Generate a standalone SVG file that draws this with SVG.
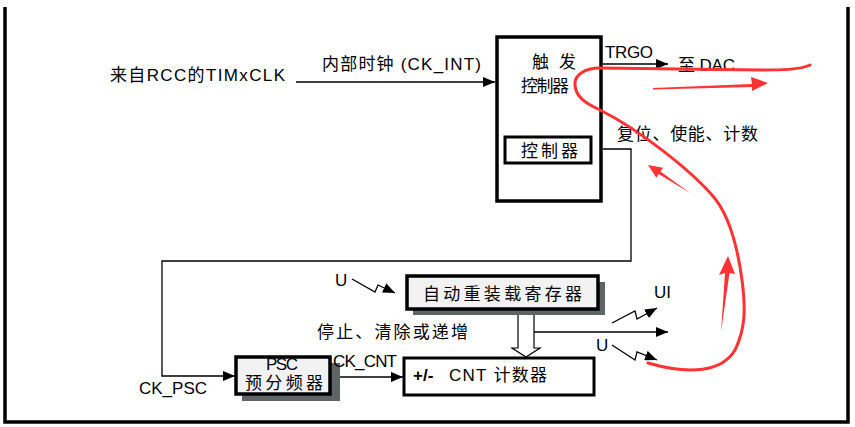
<svg xmlns="http://www.w3.org/2000/svg" width="855" height="427" viewBox="0 0 855 427">
<defs>
<marker id="ah" viewBox="0 0 12 10" refX="12" refY="5" markerWidth="12" markerHeight="10" markerUnits="userSpaceOnUse" orient="auto">
<path d="M0,0 L12,5 L0,10 Z" fill="#000"/>
</marker>
</defs>
<style>
text{font-family:"Liberation Sans","Noto Sans CJK SC",sans-serif;font-size:17px;fill:#000}
.ln{fill:none;stroke:#000;stroke-width:1.3}
.box{stroke:#000;stroke-width:3.5}
.gray{fill:#f2f2f2}
.shadow{fill:#5f6466}
.red{fill:none;stroke:#f33;stroke-width:3;stroke-linecap:round;stroke-linejoin:round}
.redf{fill:#f33}
</style>
<rect width="855" height="427" fill="#fff"/>
<g id="frame">
<path d="M5,7 V422 H848 V7" fill="none" stroke="#000" stroke-width="3.5"/>
</g>
<g id="connectors">
<line class="ln" x1="296" y1="82" x2="495" y2="82" marker-end="url(#ah)"/>
<line class="ln" x1="603" y1="64" x2="668" y2="64" marker-end="url(#ah)"/>
<polyline class="ln" points="603,149 631,149 631,261 162,261 162,376 235,376" marker-end="url(#ah)"/>
<line class="ln" x1="330" y1="377" x2="403" y2="377" marker-end="url(#ah)"/>
<line class="ln" x1="534" y1="332" x2="668" y2="332" marker-end="url(#ah)"/>
<polyline class="ln" points="352,279 375,292 378,285 395,293" marker-end="url(#ah)"/>
<polyline class="ln" points="612,323 635,311 637,319 657,308" marker-end="url(#ah)"/>
<polyline class="ln" points="612,345 635,360 637,352 657,360" marker-end="url(#ah)"/>
<path d="M518,309 V348 H512 L526,357 L540,348 H534 V309" fill="#fff" stroke="#000" stroke-width="1.2"/>
</g>
<g id="trigger">
<rect class="box" x="497" y="37" width="104" height="164" fill="#fff"/>
<text x="532" y="68">触</text><text x="559" y="68">发</text>
<text x="521" y="92" textLength="48" lengthAdjust="spacing">控制器</text>
</g>
<g id="ctrl">
<rect x="505" y="137" width="86" height="26" fill="#fff" stroke="#000" stroke-width="3"/>
<text x="521" y="157" textLength="57" lengthAdjust="spacing">控制器</text>
</g>
<g id="arr">
<rect class="shadow" x="413" y="282" width="192" height="33"/>
<rect class="box gray" x="407" y="276" width="191" height="33"/>
<text x="423" y="300" textLength="159" lengthAdjust="spacing">自动重装载寄存器</text>
</g>
<g id="psc">
<rect class="shadow" x="242" y="363" width="98" height="38"/>
<rect class="box gray" x="236" y="357" width="94" height="37"/>
<text x="266" y="370" font-size="16" textLength="32" lengthAdjust="spacing">PSC</text>
<text x="245" y="389" textLength="78" lengthAdjust="spacing">预分频器</text>
</g>
<g id="cnt">
<rect x="404" y="358" width="190" height="37" fill="#fff" stroke="#000" stroke-width="3"/>
<text x="413" y="381" font-size="16" font-weight="bold">+/-</text>
<text x="449" y="381" textLength="98" lengthAdjust="spacing">CNT 计数器</text>
</g>
<g id="labels">
<text x="110" y="81" textLength="175" lengthAdjust="spacing">来自RCC的TIMxCLK</text>
<text x="322" y="70" textLength="159" lengthAdjust="spacing">内部时钟 (CK_INT)</text>
<text x="605" y="58" font-size="16" textLength="48" lengthAdjust="spacing">TRGO</text>
<text x="678" y="71" textLength="57" lengthAdjust="spacing">至 DAC</text>
<text x="617" y="140" textLength="141" lengthAdjust="spacing">复位、使能、计数</text>
<text x="335" y="286" font-size="16">U</text>
<text x="317" y="338" textLength="151" lengthAdjust="spacing">停止、清除或递增</text>
<text x="654" y="298" font-size="16">UI</text>
<text x="596" y="351" font-size="16">U</text>
<text x="139" y="394" font-size="16" textLength="68" lengthAdjust="spacing">CK_PSC</text>
<text x="333" y="367" font-size="16" textLength="64" lengthAdjust="spacing">CK_CNT</text>
</g>
<g id="annotation">
<path class="red" d="M810,65 C800,70 780,70 760,70 L600,68 C585,68 574,75 575,85 C576,97 585,103 600,110 C640,130 690,170 712,195 C730,215 738,250 742,280 C746,310 745,330 735,350 C722,372 690,375 648,363"/>
<polygon class="redf" points="653,88 752,84 751,77 768,83 752,91 752,87 653,89.5"/>
<polygon class="redf" points="648,165 663,167.7 660.5,171.5 690,193 658.7,173.9 656.3,177.7"/>
<polygon class="redf" points="728,256 735,274 729.5,273 721,332 725,273 719,275"/>
</g>
</svg>
